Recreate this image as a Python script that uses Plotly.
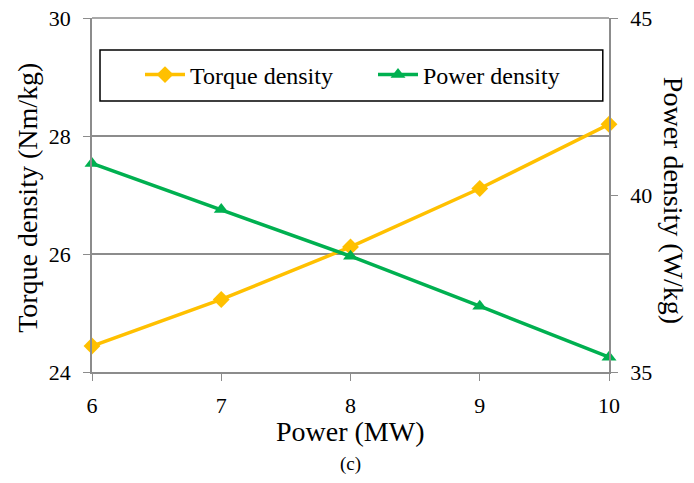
import plotly.graph_objects as go

power_mw = [6, 7, 8, 9, 10]
torque_density = [24.44, 25.23, 26.12, 27.11, 28.2]
power_density = [40.89, 39.59, 38.27, 36.86, 35.42]

x_ticks = [6, 7, 8, 9, 10]
y1_ticks = [24, 26, 28, 30]
y2_ticks = [35, 40, 45]

ORANGE = "#FFC000"
GREEN = "#00B050"
GRID = "#8C8C8C"
FONT = "Times New Roman, Liberation Serif, serif"

fig = go.Figure()
fig.add_trace(go.Scatter(
    x=power_mw, y=torque_density, name="Torque density", mode="lines+markers",
    line=dict(color=ORANGE, width=3.5),
    marker=dict(symbol="diamond", size=13, color=ORANGE),
    cliponaxis=False, yaxis="y", legend="legend"))
fig.add_trace(go.Scatter(
    x=power_mw, y=power_density, name="Power density", mode="lines+markers",
    line=dict(color=GREEN, width=3.5),
    marker=dict(symbol="triangle-up", size=13, color=GREEN),
    cliponaxis=False, yaxis="y2", legend="legend2"))

leg_common = dict(yanchor="middle", xanchor="left", y=0.839,
                  font=dict(size=24, family=FONT), bgcolor="rgba(0,0,0,0)",
                  itemwidth=40)

axis_common = dict(ticks="outside", ticklen=7, tickcolor=GRID, showline=True,
                   linecolor=GRID, linewidth=1.5, zeroline=False,
                   tickfont=dict(size=22), automargin=False, ticklabeloverflow="allow")

fig.update_layout(
    width=694, height=483,
    margin=dict(l=92, r=85, t=18, b=111, autoexpand=False),
    paper_bgcolor="white", plot_bgcolor="white",
    font=dict(family=FONT, color="black"),
    showlegend=True,
    legend=dict(x=(140 - 92) / 517, **leg_common),
    legend2=dict(x=(373 - 92) / 517, **leg_common),
    xaxis=dict(range=[6, 10], tickvals=x_ticks, showgrid=False, ticklabelstandoff=6,
               **axis_common),
    yaxis=dict(range=[24, 30], tickvals=y1_ticks, showgrid=True, gridcolor=GRID,
               gridwidth=1.5, ticklabelstandoff=8, **axis_common),
    yaxis2=dict(range=[35, 45], tickvals=y2_ticks, overlaying="y", side="right",
                showgrid=False, ticklabelstandoff=8, **axis_common),
    shapes=[dict(type="rect", xref="paper", yref="paper", x0=0.0155, x1=0.988,
                 y0=0.7655, y1=0.9096, line=dict(color="black", width=1.5)),
            dict(type="line", xref="paper", yref="paper", x0=0, x1=1, y0=1, y1=1,
                 line=dict(color=GRID, width=1.5), layer="below")],
    annotations=[
        dict(text="Power (MW)", xref="paper", yref="paper", x=0.5, y=-0.168,
             xanchor="center", yanchor="middle", showarrow=False, font=dict(size=28)),
        dict(text="(c)", xref="paper", yref="paper", x=0.5, y=-0.26,
             xanchor="center", yanchor="middle", showarrow=False, font=dict(size=19)),
        dict(text="Torque density (Nm/kg)", xref="paper", yref="paper", x=-0.125, y=0.493,
             xanchor="center", yanchor="middle", showarrow=False, textangle=-90,
             font=dict(size=28)),
        dict(text="Power density (W/kg)", xref="paper", yref="paper", x=1.124, y=0.486,
             xanchor="center", yanchor="middle", showarrow=False, textangle=90,
             font=dict(size=28)),
    ],
)

fig.write_html("out.html", config={"displayModeBar": False},
               post_script="document.body.style.margin='0px';")
